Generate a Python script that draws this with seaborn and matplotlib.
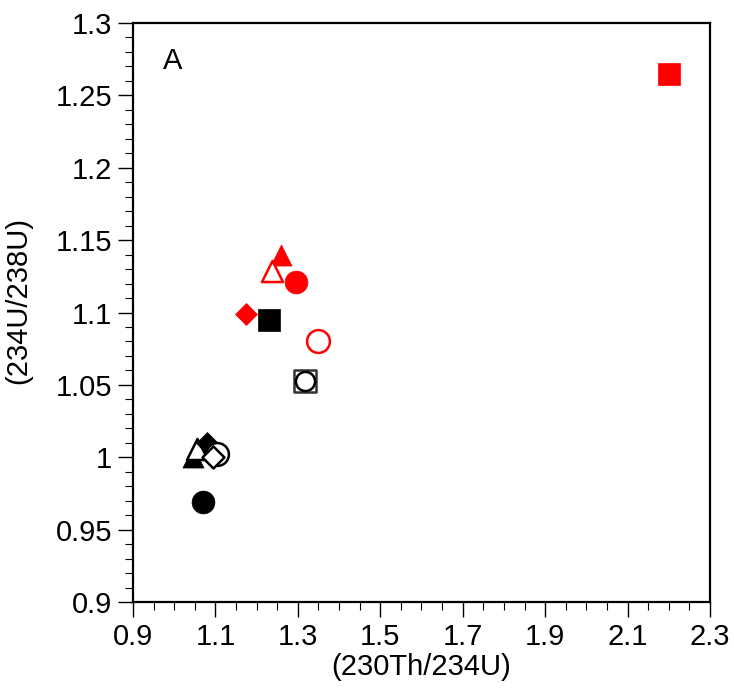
import numpy as np
import pandas as pd
import matplotlib
matplotlib.use("Agg")
import matplotlib.pyplot as plt
import seaborn as sns
from matplotlib.ticker import MultipleLocator, FixedLocator

# (230Th/234U) vs (234U/238U) activity ratios
sample = ["r_sq", "r_tri", "r_tri_o", "r_circ", "r_dia", "k_sq", "r_circ_o",
          "k_sq_o", "k_circ_in_sq", "k_tri", "k_tri_o", "k_dia", "k_circ_o",
          "k_dia_o", "k_circ"]
th_u = [2.201, 1.259, 1.237, 1.296, 1.174, 1.230, 1.349,
        1.317, 1.317, 1.046, 1.056, 1.080, 1.104, 1.094, 1.070]
u_u = [1.265, 1.140, 1.129, 1.121, 1.099, 1.095, 1.080,
       1.053, 1.053, 1.000, 1.006, 1.010, 1.002, 1.000, 0.969]
x_ticks = [0.9, 1.1, 1.3, 1.5, 1.7, 1.9, 2.1, 2.3]

df = pd.DataFrame({"sample": sample, "x": th_u, "y": u_u})

# marker, colour, filled
styles = {
    "r_sq": ("s", "red", True),
    "r_tri": ("^", "red", True),
    "r_tri_o": ("^", "red", False),
    "r_circ": ("o", "red", True),
    "r_dia": ("D", "red", True),
    "k_sq": ("s", "black", True),
    "r_circ_o": ("o", "red", False),
    "k_sq_o": ("s", "#333333", False),
    "k_circ_in_sq": ("o", "black", False),
    "k_tri": ("^", "black", True),
    "k_tri_o": ("^", "black", False),
    "k_dia": ("D", "black", True),
    "k_circ_o": ("o", "black", False),
    "k_dia_o": ("D", "black", False),
    "k_circ": ("o", "black", True),
}
sizes = {"s": 250, "^": 230, "o": 270, "D": 125}

sns.set_style("ticks")
plt.rcParams["font.family"] = ["Liberation Sans", "DejaVu Sans"]
plt.rcParams["text.color"] = "black"
plt.rcParams["axes.labelcolor"] = "black"

fig = plt.figure(figsize=(7.34, 6.9), dpi=100)
ax = fig.add_axes([0.1812, 0.1275, 0.7861, 0.8392])

for _, row in df.iterrows():
    m, c, filled = styles[row["sample"]]
    s = sizes[m]
    if row["sample"] == "k_circ_in_sq":
        s = 190
    sns.scatterplot(x=[row["x"]], y=[row["y"]], ax=ax, marker=m, s=s,
                    color=c if filled else "white", edgecolor=c,
                    linewidth=1.8 if not filled else 0.5, legend=False, zorder=3)

ax.set_xlim(0.9, 2.3)
ax.set_ylim(0.9, 1.3)
ax.xaxis.set_major_locator(FixedLocator(x_ticks))
ax.xaxis.set_minor_locator(MultipleLocator(0.05))
ax.yaxis.set_major_locator(MultipleLocator(0.05))
ax.yaxis.set_minor_locator(MultipleLocator(0.01))
ax.xaxis.set_major_formatter(plt.FuncFormatter(lambda v, p: f"{round(v, 2):g}"))
ax.yaxis.set_major_formatter(plt.FuncFormatter(lambda v, p: f"{round(v, 2):g}"))

for sp in ax.spines.values():
    sp.set_visible(True)
    sp.set_linewidth(1.6)
    sp.set_color("black")
ax.tick_params(which="major", direction="out", length=11, width=1.0, labelsize=21,
               pad=4, color="black", labelcolor="black")
ax.tick_params(which="minor", direction="out", length=5.5, width=0.8, color="black")

ax.set_xlabel("(230Th/234U)", fontsize=21, va="top")
ax.xaxis.set_label_coords(0.5, -0.088)
ax.set_ylabel("(234U/238U)", fontsize=21)
ax.yaxis.set_label_coords(-0.174, 0.52)
ax.text(0.052, 0.935, "A", transform=ax.transAxes, fontsize=21, va="center", ha="left")

fig.savefig("out.png", dpi=100)
